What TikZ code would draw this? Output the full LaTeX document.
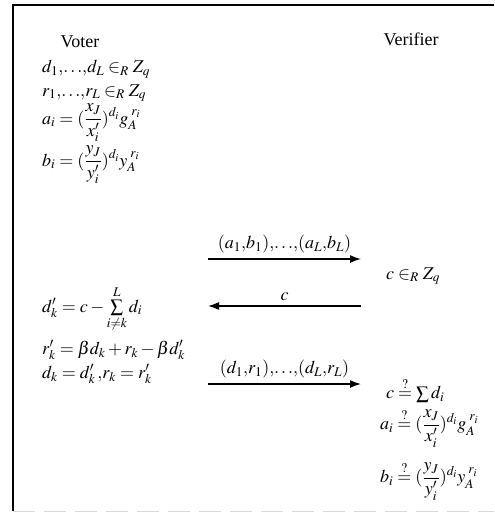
\documentclass[tikz,border=0pt]{standalone}
\usepackage{amsmath,amssymb}
\usepackage{mathptmx}
\usepackage[no-math]{fontspec}
\setmainfont{Liberation Serif}
\usetikzlibrary{positioning,arrows.meta}

\begin{document}
\begin{tikzpicture}[x=1pt,y=-1pt,>={Latex[length=11pt,width=8pt]},
  every node/.style={font=\fontsize{18}{21}\selectfont,inner sep=0pt},
  msg/.style={->,line width=1.5pt},
  lbl/.style={midway,above=5pt}]
\useasboundingbox (0,0) rectangle (494,518);
% frame
\draw[line width=1.3pt] (494,5) -- (13,5) -- (13,511);
\draw[gray!30,line width=1pt,dash pattern=on 22pt off 9pt] (13,511) -- (494,511);
% parties
\node (voter) at (80,42) {Voter};
\node (verifier) at (411,39) {Verifier};
% voter side
\node[anchor=west] (v1) at (42,69) {$d_1{,}{\ldots}{,}d_L\in_R Z_q$};
\node[anchor=west] (v2) at (42,93) {$r_1{,}{\ldots}{,}r_L\in_R Z_q$};
\node[anchor=west] (v3) at (42,123) {$\displaystyle a_i=(\frac{x_J}{x'_i})^{d_i}g_A^{\;r_i}$};
\node[anchor=west] (v4) at (42,165) {$\displaystyle b_i=(\frac{y_J}{y'_i})^{d_i}y_A^{\;r_i}$};
\node[anchor=west] (v5) at (42,309) {$d'_k=c-\sum\limits_{i\neq k}^{L}d_i$};
\node[anchor=west] (v6) at (42,350) {$r'_k=\beta d_k+r_k-\beta d'_k$};
\node[anchor=west] (v7) at (42,374) {$d_k=d'_k\,{,}r_k=r'_k$};
% verifier side
\node[anchor=west] (w1) at (386,276) {$c\in_R Z_q$};
\node[anchor=west] (w2) at (386,390) {$c\overset{?}{=}\sum d_i$};
\node[anchor=west] (w3) at (380,428) {$\displaystyle a_i\overset{?}{=}(\frac{x_J}{x'_i})^{d_i}g_A^{\;r_i}$};
\node[anchor=west] (w4) at (380,481) {$\displaystyle b_i\overset{?}{=}(\frac{y_J}{y'_i})^{d_i}y_A^{\;r_i}$};
% messages
\coordinate (m1a) at (208,259);
\coordinate (m1b) at (361,259);
\coordinate (m2a) at (361,306);
\coordinate (m2b) at (208,306);
\coordinate (m3a) at (208,384);
\coordinate (m3b) at (361,384);
\draw[msg] (m1a) -- (m1b) node[lbl] (t1) {$(a_1{,}b_1){,}{\ldots}{,}(a_L{,}b_L)$};
\draw[msg] (m2a) -- (m2b) node[lbl] (t2) {$c$};
\draw[msg] (m3a) -- (m3b) node[lbl] (t3) {$(d_1{,}r_1){,}{\ldots}{,}(d_L{,}r_L)$};
\end{tikzpicture}
\end{document}
